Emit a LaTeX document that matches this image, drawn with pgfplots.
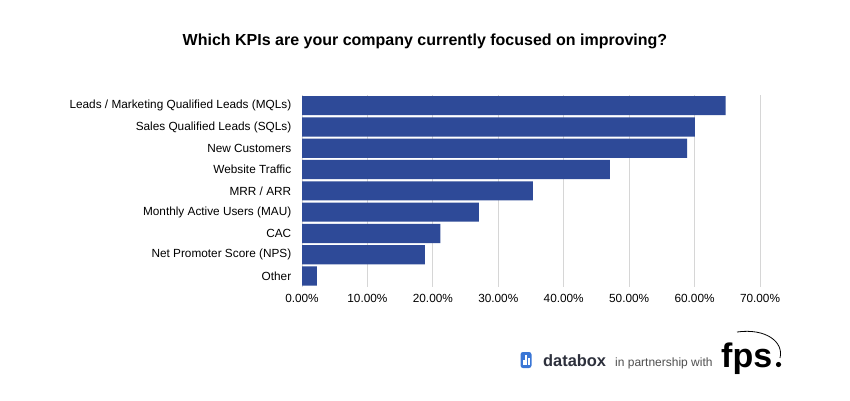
\documentclass[border=0pt]{standalone}
\usepackage{fontspec}
\setmainfont{Liberation Sans}
\usepackage{pgfplots}
\pgfplotsset{compat=1.18}
\definecolor{barblue}{RGB}{46,74,152}
\definecolor{gridgray}{RGB}{214,214,214}
\definecolor{dbblue}{RGB}{58,118,214}
\definecolor{dbtext}{RGB}{45,48,60}
\definecolor{ptext}{RGB}{80,80,80}
\begin{document}
\begin{tikzpicture}[x=1bp,y=1bp]
\path[fill=white] (0,0) rectangle (850,400);
\node[font=\fontsize{16bp}{18bp}\selectfont\bfseries] at (425,359) {Which KPIs are your company currently focused on improving?};
\begin{axis}[
  at={(302bp,113.3bp)}, anchor=south west, scale only axis,
  width=458bp, height=191.7bp,
  xmin=0, xmax=70, ymin=-0.5, ymax=8.5, y dir=reverse,
  xbar, bar width=0.9,
  xtick={0,10,...,70},
  xticklabel={\pgfmathprintnumber[fixed,fixed zerofill,precision=2]{\tick}\%},
  ytick={0,...,8},
  yticklabels={Leads / Marketing Qualified Leads (MQLs),Sales Qualified Leads (SQLs),New Customers,Website Traffic,MRR / ARR,Monthly Active Users (MAU),CAC,Net Promoter Score (NPS),Other},
  xmajorgrids, grid style={gridgray, line width=0.9pt},
  axis line style={draw=none}, tick style={draw=none},
  tick label style={font=\fontsize{11.8bp}{13bp}\selectfont},
  yticklabel style={xshift=-3bp},
  xticklabel style={yshift=-4bp},
  /pgf/number format/assume math mode=true,
  clip=false,
]
\addplot[fill=barblue, draw=none] coordinates {
(64.74,0) (60.05,1) (58.87,2) (47.05,3) (35.28,4) (27.02,5) (21.16,6) (18.76,7) (2.29,8)};
\end{axis}
% logos
\fill[dbblue, rounded corners=2.5bp] (520.5,32) rectangle (531.5,48);
\fill[white] (522.8,35) rectangle (524.6,40);
\fill[white] (525.4,35) rectangle (527.2,45);
\fill[white] (528,35) rectangle (529.8,42);
\node[anchor=base west, inner sep=0, font=\fontsize{16.4bp}{18bp}\selectfont\bfseries, text=dbtext] at (543,33.5) {databox};
\node[anchor=base west, inner sep=0, font=\fontsize{12bp}{14bp}\selectfont, text=ptext] at (615,34) {in partnership with};
\node[anchor=base west, inner sep=0, font=\fontsize{34bp}{36bp}\selectfont\bfseries] at (721,33) {fps};
\fill (778.5,35.5) circle (2.6);
\draw[line width=0.8pt] (737,68) .. controls (766,72) and (784,58) .. (780,42);
\end{tikzpicture}
\end{document}
